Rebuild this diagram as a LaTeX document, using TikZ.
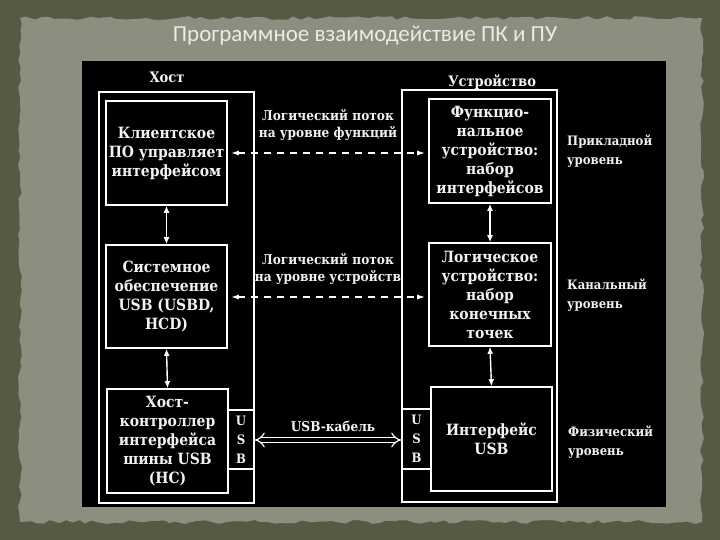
\documentclass[tikz,border=0pt]{standalone}
\usepackage{fontspec}
\setmainfont{DejaVu Serif Condensed}
\newfontfamily\titlefont{Carlito}
\usetikzlibrary{arrows.meta,decorations.pathmorphing}
\definecolor{outerbg}{RGB}{84,90,68}
\definecolor{innerbg}{RGB}{138,143,127}
\definecolor{titlecol}{RGB}{236,236,230}
\definecolor{txt}{RGB}{242,242,242}
\tikzset{
  box/.style={draw=white, line width=1.6pt, inner sep=0pt, align=center, text=txt,
    font=\bfseries\fontsize{15.5}{19}\selectfont},
  frame/.style={draw=white, line width=1.6pt, inner sep=0pt},
  usbbox/.style={draw=white, line width=1.6pt, inner sep=0pt, align=center, text=txt,
    font=\bfseries\fontsize{13}{19}\selectfont},
  lbl/.style={text=txt, align=center, inner sep=0pt, font=\bfseries\fontsize{13.5}{17}\selectfont},
  lvl/.style={text=txt, align=left, anchor=west, inner sep=0pt, font=\bfseries\fontsize{13}{19}\selectfont},
  vlink/.style={draw=white, line width=1.4pt, {Latex[length=7pt,width=6pt]}-{Latex[length=7pt,width=6pt]}},
  dlink/.style={draw=white, line width=1.4pt, dash pattern=on 7pt off 6pt,
    {Latex[length=8pt,width=5pt]}-{Latex[length=8pt,width=5pt]}, shorten <=3pt, shorten >=3pt},
  cable/.style={draw=white, double=black, double distance=4pt, line width=1.2pt, {Implies}-{Implies}}
}
\begin{document}
\begin{tikzpicture}[x=1pt,y=-1pt]
\useasboundingbox (0,0) rectangle (720,540);
% background
\fill[outerbg] (0,0) rectangle (720,540);
\fill[innerbg, decorate, decoration={random steps, segment length=7pt, amplitude=2pt}]
  (20,18) -- (702,18) -- (702,522) -- (20,522) -- cycle;
\node[text=titlecol, font=\titlefont\fontsize{23}{26}\selectfont] (title) at (365,36) {Программное взаимодействие ПК и ПУ};
% black panel
\fill[black] (82,61) rectangle (666,507);

% host side
\node[text=txt, font=\bfseries\fontsize{14.5}{17}\selectfont] (host) at (167,77) {Хост};
\node[frame, minimum width=155pt, minimum height=411pt] (hostframe) at (176.5,297.5) {};
\node[box, minimum width=121pt, minimum height=104pt] (h1) at (166.5,153) {Клиентское\\ПО управляет\\интерфейсом};
\node[box, minimum width=121pt, minimum height=103pt] (h2) at (166.5,296.5) {Системное\\обеспечение\\USB (USBD,\\HCD)};
\node[box, minimum width=121pt, minimum height=104pt] (h3) at (167.5,441) {Хост-\\контроллер\\интерфейса\\шины USB\\(HC)};
\node[usbbox, minimum width=26pt, minimum height=59pt] (husb) at (241,439.5) {U\\S\\B};

% device side
\node[text=txt, font=\bfseries\fontsize{14.5}{17}\selectfont] (dev) at (492,82) {Устройство};
\node[frame, minimum width=155pt, minimum height=412pt] (devframe) at (479.5,296) {};
\node[box, minimum width=122pt, minimum height=104pt] (d1) at (490,151) {Функцио-\\нальное\\устройство:\\набор\\интерфейсов};
\node[box, minimum width=122pt, minimum height=103pt] (d2) at (490,294.5) {Логическое\\устройство:\\набор\\конечных\\точек};
\node[box, minimum width=121pt, minimum height=104pt] (d3) at (491.5,439) {Интерфейс\\USB};
\node[usbbox, minimum width=29pt, minimum height=60pt] (dusb) at (416.5,439) {U\\S\\B};

% vertical links
\draw[vlink] (h1.south) -- (h2.north);
\draw[vlink] (h2.south) -- (h3.north);
\draw[vlink] (d1.south) -- (d2.north);
\draw[vlink] (d2.south) -- (d3.north);

% horizontal links
\coordinate (a1) at (h1.east |- 0,153);
\coordinate (b1) at (d1.west |- 0,153);
\draw[dlink] (a1) -- (b1);
\coordinate (a2) at (h2.east |- 0,297);
\coordinate (b2) at (d2.west |- 0,297);
\draw[dlink] (a2) -- (b2);
\coordinate (a3) at (husb.east |- 0,440);
\coordinate (b3) at (dusb.west |- 0,440);
\draw[cable] (a3) -- (b3);

% labels
\node[lbl] (l1) at (328,124.5) {Логический поток\\на уровне функций};
\node[lbl] (l2) at (328,269) {Логический поток\\на уровне устройств};
\node[lbl] (l3) at (333,426) {USB-кабель};

\node[lvl] (v1) at (567,151) {Прикладной\\уровень};
\node[lvl] (v2) at (567,295) {Канальный\\уровень};
\node[lvl] (v3) at (568,442) {Физический\\уровень};
\end{tikzpicture}
\end{document}
